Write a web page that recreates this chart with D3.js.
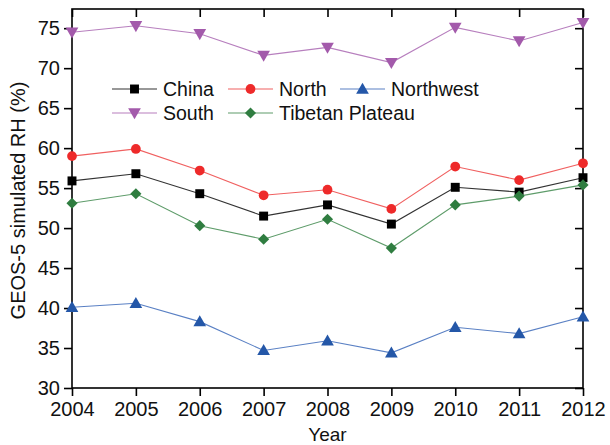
<!DOCTYPE html>
<html>
<head>
<meta charset="utf-8">
<script src="https://cdn.jsdelivr.net/npm/d3@7"></script>
<style>
  html, body { margin: 0; padding: 0; background: #fff; }
  svg { display: block; font-family: Arial, "Liberation Sans", sans-serif; }
</style>
</head>
<body>
<svg id="chart" width="610" height="445"></svg>
<script>
// Years on the x axis
const years = [2004, 2005, 2006, 2007, 2008, 2009, 2010, 2011, 2012];

// GEOS-5 simulated relative humidity (%) by region
const china     = [55.9, 56.8, 54.3, 51.5, 52.9, 50.5, 55.1, 54.5, 56.3];
const north     = [59.0, 59.9, 57.2, 54.1, 54.8, 52.4, 57.7, 56.0, 58.1];
const northwest = [40.1, 40.6, 38.3, 34.7, 35.9, 34.4, 37.6, 36.8, 38.9];
const south     = [74.5, 75.3, 74.3, 71.6, 72.6, 70.7, 75.1, 73.4, 75.7];
const tibetan   = [53.1, 54.3, 50.3, 48.6, 51.1, 47.5, 52.9, 54.0, 55.4];

const yTicks = [30, 35, 40, 45, 50, 55, 60, 65, 70, 75];

const series = [
  { name: "China",           values: china,     color: "#000000", line: "#333333", symbol: d3.symbolSquare,   size: 80,  rot: 0 },
  { name: "North",           values: north,     color: "#ee2a2a", line: "#f06060", symbol: d3.symbolCircle,   size: 75,  rot: 0 },
  { name: "Northwest",       values: northwest, color: "#2457a8", line: "#5a80c4", symbol: d3.symbolTriangle, size: 70,  rot: 0,   dy: 1 },
  { name: "South",           values: south,     color: "#a35aab", line: "#b77fbe", symbol: d3.symbolTriangle, size: 70,  rot: 180, dy: -1 },
  { name: "Tibetan Plateau", values: tibetan,   color: "#2f7d40", line: "#5e9c6a", symbol: d3.symbolSquare,   size: 62,  rot: 45 }
];

const svg = d3.select("#chart");
const plotL = 72, plotR = 583, plotT = 9, plotB = 388;

const x = d3.scaleLinear().domain([2004, 2012]).range([plotL, plotR]);
const y = d3.scaleLinear().domain([30, 77.4]).range([plotB, plotT]);

// Frame
svg.append("rect")
  .attr("x", plotL).attr("y", plotT)
  .attr("width", plotR - plotL).attr("height", plotB - plotT)
  .attr("fill", "none").attr("stroke", "#000").attr("stroke-width", 1.6);

const styleAxis = g => {
  g.select(".domain").remove();
  g.selectAll(".tick line").attr("stroke", "#000").attr("stroke-width", 1.6);
  g.selectAll(".tick text").attr("fill", "#111").style("font-size", "20px");
};

// Bottom axis
svg.append("g")
  .attr("transform", `translate(0,${plotB})`)
  .call(d3.axisBottom(x).tickValues(years).tickFormat(d3.format("d")).tickSize(8).tickPadding(6).tickSizeOuter(0))
  .call(styleAxis);

// Top axis (inner ticks only)
svg.append("g")
  .attr("transform", `translate(0,${plotT})`)
  .call(d3.axisTop(x).tickValues(years).tickSize(-8).tickFormat("").tickSizeOuter(0))
  .call(styleAxis);

// Left axis
svg.append("g")
  .attr("transform", `translate(${plotL},0)`)
  .call(d3.axisLeft(y).tickValues(yTicks).tickSize(8).tickPadding(4).tickSizeOuter(0))
  .call(styleAxis);

// Right axis (inner ticks only)
svg.append("g")
  .attr("transform", `translate(${plotR},0)`)
  .call(d3.axisRight(y).tickValues(yTicks).tickSize(-8).tickFormat("").tickSizeOuter(0))
  .call(styleAxis);

// Axis titles
svg.append("text")
  .attr("x", (plotL + plotR) / 2).attr("y", 441)
  .attr("text-anchor", "middle")
  .style("font-size", "19px").attr("fill", "#111")
  .text("Year");

svg.append("text")
  .attr("transform", `translate(25,${(plotT + plotB) / 2 + 2}) rotate(-90)`)
  .attr("text-anchor", "middle")
  .style("font-size", "20px").attr("fill", "#111")
  .text("GEOS-5 simulated RH (%)");

const line = d3.line().x((d, i) => x(years[i])).y(d => y(d));

const symbolPath = s => d3.symbol().type(s.symbol).size(s.size)();
const markTransform = (s, cx, cy) => `translate(${cx},${cy + (s.dy || 0)}) rotate(${s.rot})`;

series.forEach(s => {
  const g = svg.append("g");
  g.append("path")
    .datum(s.values)
    .attr("d", line)
    .attr("fill", "none")
    .attr("stroke", s.line)
    .attr("stroke-width", 1.1);
  g.selectAll("path.mark")
    .data(s.values)
    .join("path")
    .attr("class", "mark")
    .attr("d", symbolPath(s))
    .attr("transform", (d, i) => markTransform(s, x(years[i]), y(d)))
    .attr("fill", s.color);
});

// Legend
const legendPos = [
  { lx: 112, ly: 89 }, { lx: 228, ly: 89 }, { lx: 340, ly: 89 },
  { lx: 112, ly: 113 }, { lx: 228, ly: 113 }
];
series.forEach((s, i) => {
  const p = legendPos[i];
  const g = svg.append("g").attr("transform", `translate(${p.lx},${p.ly})`);
  g.append("line").attr("x1", 0).attr("x2", 45).attr("y1", 0).attr("y2", 0)
    .attr("stroke", s.line).attr("stroke-width", 1.1);
  g.append("path").attr("d", symbolPath(s))
    .attr("transform", markTransform(s, 22.5, 0))
    .attr("fill", s.color);
  g.append("text").attr("x", 51).attr("y", 7)
    .style("font-size", "19.5px").attr("fill", "#111")
    .text(s.name);
});
</script>
</body>
</html>
